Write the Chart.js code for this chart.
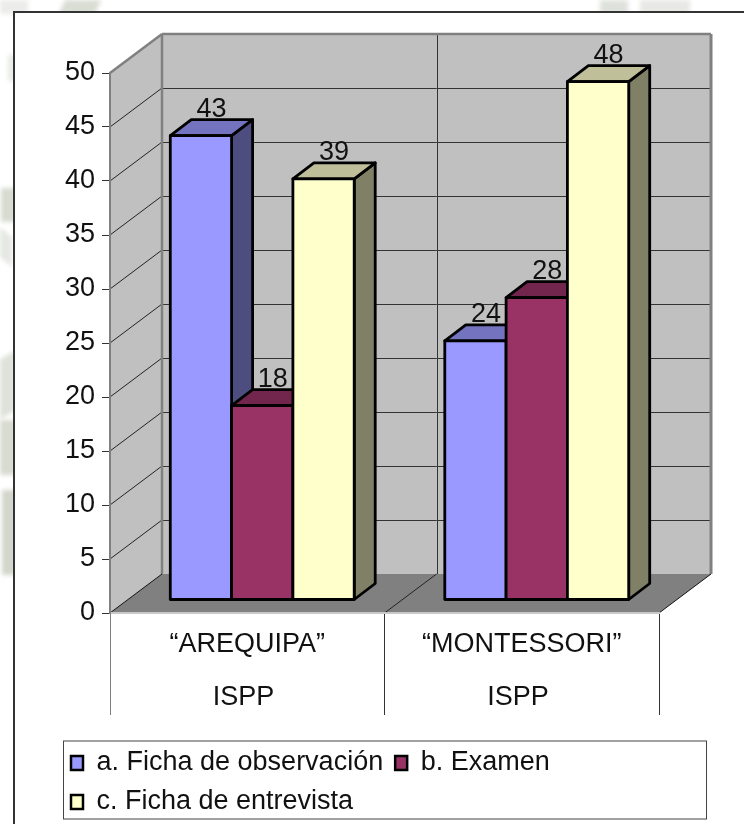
<!DOCTYPE html>
<html>
<head>
<meta charset="utf-8">
<script src="https://cdn.jsdelivr.net/npm/chart.js@4"></script>
<style>
html,body{margin:0;padding:0;background:#fff;width:744px;height:824px;overflow:hidden}
#wm{position:absolute;left:0;top:0;width:744px;height:824px;filter:blur(2px)}
#wm div{position:absolute}
canvas{position:absolute;left:0;top:0}
</style>
</head>
<body>
<div id="wm">
<div style="left:0;top:0;width:28px;height:14px;background:#ececea"></div>
<div style="left:62px;top:0;width:36px;height:14px;background:#d9ddd4;transform:skewX(-25deg)"></div>
<div style="left:600px;top:0;width:28px;height:14px;background:#dfe2dc"></div>
<div style="left:640px;top:0;width:50px;height:14px;background:#e8e9e5"></div>
<div style="left:8px;top:55px;width:8px;height:26px;background:#e8ebe6"></div>
<div style="left:1px;top:188px;width:15px;height:34px;background:#d7dbd0"></div>
<div style="left:0;top:232px;width:12px;height:30px;background:#e6e8e3;transform:skewY(40deg)"></div>
<div style="left:0;top:355px;width:15px;height:60px;background:#dfe2da;transform:skewY(-30deg)"></div>
<div style="left:0;top:420px;width:16px;height:55px;background:#d8dbd0"></div>
<div style="left:2px;top:490px;width:14px;height:85px;background:#d3d6cb"></div>
</div>
<canvas id="c" width="744" height="824"></canvas>
<script>
const categories = [['\u201CAREQUIPA\u201D', 'ISPP '], ['\u201CMONTESSORI\u201D', 'ISPP ']];
const seriesNames = ['a. Ficha de observaci\u00F3n', 'b. Examen', 'c. Ficha de entrevista'];
const fichaObservacion = [43, 24];
const examen = [18, 28];
const fichaEntrevista = [39, 48];
const yTickMax = 50;
const yTickStep = 5;
const fillColors = ['#9999FF', '#993366', '#FFFFCC'];
const topColors = ['#7373BF', '#73264D', '#BFBF99'];
const sideColors = ['#4D4D80', '#4D1A33', '#808066'];

const FONT = '"Liberation Sans", Arial, sans-serif';
const FS = 27;
const WALL = {dx: 52, dy: -39};
const BAR_FRONT = {dx: 15, dy: -13};
const BAR_DEPTH = {dx: 21, dy: -16};
const BAR_STROKE = 2.8;

function poly(ctx, pts, fill, stroke, lw) {
  ctx.beginPath();
  pts.forEach((p, i) => i ? ctx.lineTo(p[0], p[1]) : ctx.moveTo(p[0], p[1]));
  ctx.closePath();
  if (fill) { ctx.fillStyle = fill; ctx.fill(); }
  if (stroke) { ctx.strokeStyle = stroke; ctx.lineWidth = lw; ctx.stroke(); }
}
function seg(ctx, a, b, c, d, color, lw) {
  ctx.beginPath(); ctx.moveTo(a, b); ctx.lineTo(c, d);
  ctx.strokeStyle = color; ctx.lineWidth = lw; ctx.stroke();
}

const scene3d = {
  id: 'scene3d',
  afterLayout(chart) {
    chart.legend.left = 59;
    chart.legend.top = 737.5;
  },
  beforeDraw(chart) {
    const ctx = chart.ctx, {x: xs, y: ys} = chart.scales;
    const L = xs.left, R = xs.right, T = ys.top, B = ys.bottom;
    const dx = WALL.dx, dy = WALL.dy;
    ctx.save();
    // frame
    ctx.fillStyle = '#fff'; ctx.fillRect(14, 12, 800, 900);
    ctx.strokeStyle = '#333'; ctx.lineWidth = 2; ctx.strokeRect(14, 12, 800, 900);
    // walls and floor
    poly(ctx, [[L + dx, T + dy], [R + dx, T + dy], [R + dx, B + dy], [L + dx, B + dy]], '#C0C0C0');
    poly(ctx, [[L, T], [L + dx, T + dy], [L + dx, B + dy], [L, B]], '#C0C0C0');
    poly(ctx, [[L, B], [L + dx, B + dy], [R + dx, B + dy], [R, B]], '#808080');
    // gridlines
    ys.ticks.forEach(t => {
      if (t.value === 0 || t.value === yTickMax) return;
      const y = ys.getPixelForValue(t.value);
      seg(ctx, L, y, L + dx, y + dy, '#222', 1);
      seg(ctx, L + dx, Math.round(y + dy) + .5, R + dx, Math.round(y + dy) + .5, '#333', 1);
    });
    for (let i = 0; i < categories.length - 1; i++) {
      const m = (xs.getPixelForTick(i) + xs.getPixelForTick(i + 1)) / 2;
      seg(ctx, m, B, m + dx, B + dy, '#222', 1);
      seg(ctx, Math.round(m + dx) + .5, T + dy, Math.round(m + dx) + .5, B + dy, '#333', 1);
    }
    // wall edges
    seg(ctx, L + dx, T + dy, L + dx, B + dy, '#808080', 2.5);
    seg(ctx, L, T, L + dx, T + dy, '#808080', 2.5);
    seg(ctx, L + dx, T + dy, R + dx, T + dy, '#808080', 2.5);
    seg(ctx, R + dx, T + dy, R + dx, B + dy, '#808080', 3);
    seg(ctx, L, B, L + dx, B + dy, '#111', 1);
    seg(ctx, R, B, R + dx, B + dy, '#111', 1);
    ctx.restore();
  },
  beforeDatasetsDraw(chart) {
    const ctx = chart.ctx;
    const fx = BAR_FRONT.dx, fy = BAR_FRONT.dy, bx = BAR_DEPTH.dx, by = BAR_DEPTH.dy;
    ctx.save();
    ctx.translate(fx, fy);
    ctx.lineJoin = 'round';
    chart.data.datasets.forEach((ds, di) => {
      const meta = chart.getDatasetMeta(di);
      meta.data.forEach(el => {
        const l = el.x - el.width / 2, r = el.x + el.width / 2, t = el.y, b = el.base;
        poly(ctx, [[r, t], [r + bx, t + by], [r + bx, b + by], [r, b]], sideColors[di], '#000', BAR_STROKE);
        poly(ctx, [[l, t], [l + bx, t + by], [r + bx, t + by], [r, t]], topColors[di], '#000', BAR_STROKE);
      });
      meta.controller.draw();
      meta.data.forEach(el => {
        ctx.strokeStyle = '#000'; ctx.lineWidth = BAR_STROKE;
        ctx.strokeRect(el.x - el.width / 2, el.y, el.width, el.base - el.y);
      });
    });
    // value labels
    ctx.fillStyle = '#111';
    ctx.font = FS + 'px ' + FONT;
    ctx.textAlign = 'center';
    ctx.textBaseline = 'alphabetic';
    chart.data.datasets.forEach((ds, di) => {
      chart.getDatasetMeta(di).data.forEach((el, i) => {
        ctx.fillText(String(ds.data[i]), el.x + bx / 2, el.y + by - 3);
      });
    });
    ctx.restore();
    return false;
  },
  afterDraw(chart) {
    const ctx = chart.ctx;
    ctx.save();
    ctx.strokeStyle = '#444'; ctx.lineWidth = 1;
    ctx.strokeRect(63.5, 741, 643, 78);
    ctx.restore();
  }
};

new Chart(document.getElementById('c'), {
  type: 'bar',
  plugins: [scene3d],
  data: {
    labels: categories,
    datasets: [
      {label: seriesNames[0], data: fichaObservacion, backgroundColor: fillColors[0]},
      {label: seriesNames[1], data: examen, backgroundColor: fillColors[1]},
      {label: seriesNames[2], data: fichaEntrevista, backgroundColor: fillColors[2]}
    ]
  },
  options: {
    responsive: false,
    animation: false,
    layout: {padding: {left: 0, right: 85, top: 73, bottom: 0}},
    datasets: {bar: {barPercentage: 1, categoryPercentage: 0.67, borderWidth: 0}},
    scales: {
      x: {
        type: 'category',
        afterFit(s) { s.height = 123; s.paddingLeft = 0; s.paddingRight = 0; },
        grid: {
          drawOnChartArea: false, tickLength: 102, lineWidth: 1,
          tickColor: ctx => ctx.index === 0 ? '#808080' : '#333'
        },
        border: {color: '#c8c8c8', width: 2},
        ticks: {
          autoSkip: false, maxRotation: 0, minRotation: 0, padding: -97, color: '#111',
          font: {family: FONT, size: FS, lineHeight: '53px'}
        }
      },
      y: {
        min: 0, max: yTickMax,
        afterFit(s) { s.width = 110; s.paddingTop = 0; s.paddingBottom = 0; },
        grid: {drawOnChartArea: false, tickLength: 8, color: '#333'},
        border: {color: '#808080', width: 2},
        ticks: {stepSize: yTickStep, padding: 7, color: '#111', font: {family: FONT, size: FS}}
      }
    },
    plugins: {
      tooltip: {enabled: false},
      title: {display: false},
      legend: {
        position: 'bottom', align: 'start',
        labels: {
          boxWidth: 12, boxHeight: 14, padding: 12, color: '#111',
          font: {family: FONT, size: FS},
          generateLabels(chart) {
            return Chart.defaults.plugins.legend.labels.generateLabels(chart).map(it =>
              Object.assign(it, {strokeStyle: '#000', lineWidth: 2.5}));
          }
        }
      }
    }
  }
});
</script>
</body>
</html>
